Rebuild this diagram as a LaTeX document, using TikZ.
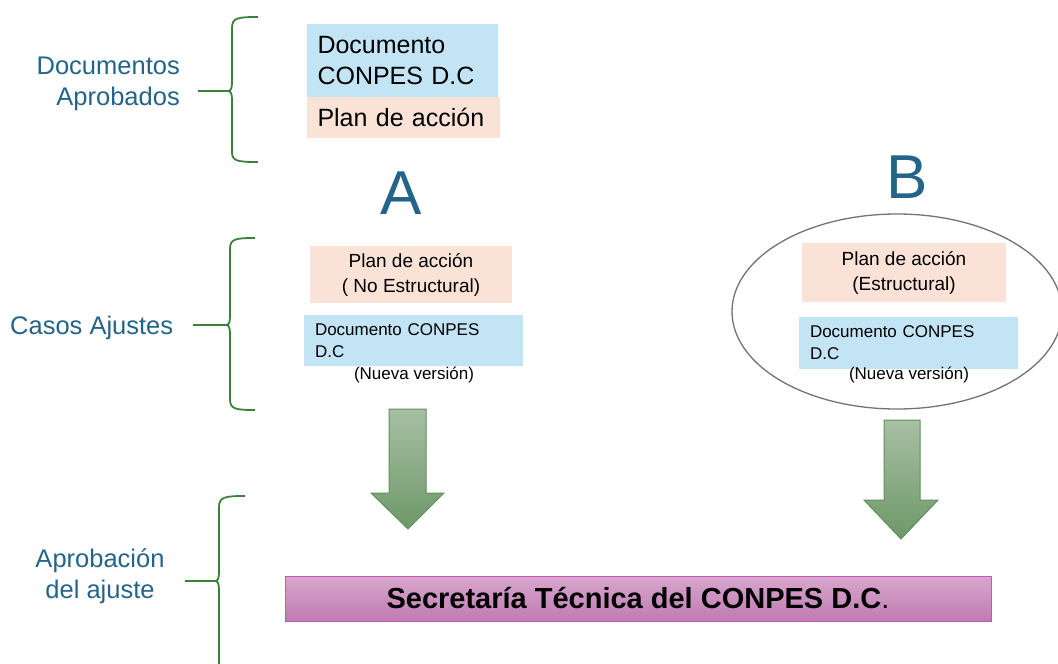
\documentclass[tikz,border=0pt]{standalone}
\usepackage{fontspec}
\setmainfont{Liberation Sans}
\usetikzlibrary{shapes.geometric}
\definecolor{labcol}{HTML}{236489}
\definecolor{bracecol}{HTML}{3C7F3A}
\definecolor{bluebox}{HTML}{C3E4F4}
\definecolor{peachbox}{HTML}{FBE2D7}
\definecolor{arrtop}{HTML}{A7BFA4}
\definecolor{arrbot}{HTML}{6E9868}
\definecolor{arrline}{HTML}{62905C}
\definecolor{pinktop}{HTML}{D8A6CE}
\definecolor{pinkbot}{HTML}{BE7CB0}
\definecolor{pinkline}{HTML}{C456B6}
\tikzset{
  sidelab/.style={text=labcol, inner sep=0pt, font=\fontsize{25.5}{31}\selectfont},
  bigletter/.style={text=labcol, inner sep=0pt, font=\fontsize{62}{70}\selectfont},
  bracestyle/.style={draw=bracecol, line width=1.8pt, line join=round},
  topbox/.style={inner sep=0pt, align=left, font=\fontsize{25}{31}\selectfont},
  planbox/.style={fill=peachbox, inner sep=0pt, align=center, font=\fontsize{19}{25}\selectfont},
  docbox/.style={fill=bluebox, inner sep=0pt, align=left, font=\fontsize{17}{22}\selectfont},
  versionlab/.style={inner sep=0pt, font=\fontsize{17}{22}\selectfont},
  blockarrow/.style={top color=arrtop, bottom color=arrbot, draw=arrline, line width=1pt, line join=miter},
}
\begin{document}
\begin{tikzpicture}[x=1pt,y=-1pt]
\useasboundingbox (0,0) rectangle (1058,664);

% left labels
\node[sidelab, align=right, anchor=east] (lab1) at (180,84) {Documentos\\Aprobados};
\node[sidelab, anchor=west] (lab2) at (10,328) {Casos Ajustes};
\node[sidelab, align=center] (lab3) at (100,576) {Aprobación\\del ajuste};

% braces
\coordinate (t1) at (228,91); \coordinate (h1) at (198,91);
\draw[bracestyle] (258,17) .. controls (237,17) and (232,18) .. (232,28) -- (232,82)
  .. controls (232,88) and (231,91) .. (t1) .. controls (231,91) and (232,94) .. (232,100)
  -- (232,152) .. controls (232,161) and (237,162) .. (258,162);
\draw[bracestyle] (h1) -- (t1);

\coordinate (t2) at (226,325); \coordinate (h2) at (193,325);
\draw[bracestyle] (255,238) .. controls (235,238) and (230,239) .. (230,249) -- (230,316)
  .. controls (230,322) and (229,325) .. (t2) .. controls (229,325) and (230,328) .. (230,334)
  -- (230,399) .. controls (230,409) and (235,410) .. (255,410);
\draw[bracestyle] (h2) -- (t2);

\coordinate (t3) at (215,581); \coordinate (h3) at (185,581);
\draw[bracestyle] (245,496) .. controls (225,496) and (219,497) .. (219,507) -- (219,572)
  .. controls (219,578) and (218,581) .. (t3) .. controls (218,581) and (219,584) .. (219,590)
  -- (219,664);
\draw[bracestyle] (h3) -- (t3);

% top boxes
\node[topbox, fill=bluebox, minimum width=191, minimum height=73, text width=170] (doc0) at (402.5,60.5) {Documento\\CONPES D.C};
\node[topbox, fill=peachbox, minimum width=193, minimum height=41, text width=172] (plan0) at (403.5,117.5) {Plan de acción};

% letters
\node[bigletter] (A) at (401,193) {A};
\node[bigletter] (B) at (907,177) {B};

% case A
\node[planbox, minimum width=202, minimum height=57] (planA) at (411,274.5) {Plan de acción\\( No Estructural)};
\node[docbox, minimum width=219, minimum height=51, text width=197] (docA) at (413.5,340.5) {Documento CONPES\\D.C};
\node[versionlab] (verA) at (414,375) {(Nueva versión)};

% case B
\node[ellipse, draw=black!55, line width=1.3pt, minimum width=330, minimum height=195, inner sep=0pt] (ellB) at (897,311.5) {};
\node[planbox, minimum width=204, minimum height=59] (planB) at (904,272.5) {Plan de acción\\(Estructural)};
\node[docbox, minimum width=219, minimum height=52, text width=197] (docB) at (908.5,343) {Documento CONPES\\D.C};
\node[versionlab] (verB) at (909,375) {(Nueva versión)};

% block arrows
\shade[blockarrow] (389,409) -- (426,409) -- (426,493) -- (444,493) -- (408,529) -- (371,493) -- (389,493) -- cycle;
\shade[blockarrow] (884,420) -- (920,420) -- (920,500) -- (938,500) -- (901,539) -- (864,500) -- (884,500) -- cycle;

% bottom box
\node[top color=pinktop, bottom color=pinkbot, draw=pinkline, line width=1pt, minimum width=706, minimum height=45, inner sep=0pt, font=\fontsize{29}{32}\selectfont] (sec) at (638,598.5) {\textbf{Secretaría Técnica del CONPES D.C}.};
\end{tikzpicture}
\end{document}
